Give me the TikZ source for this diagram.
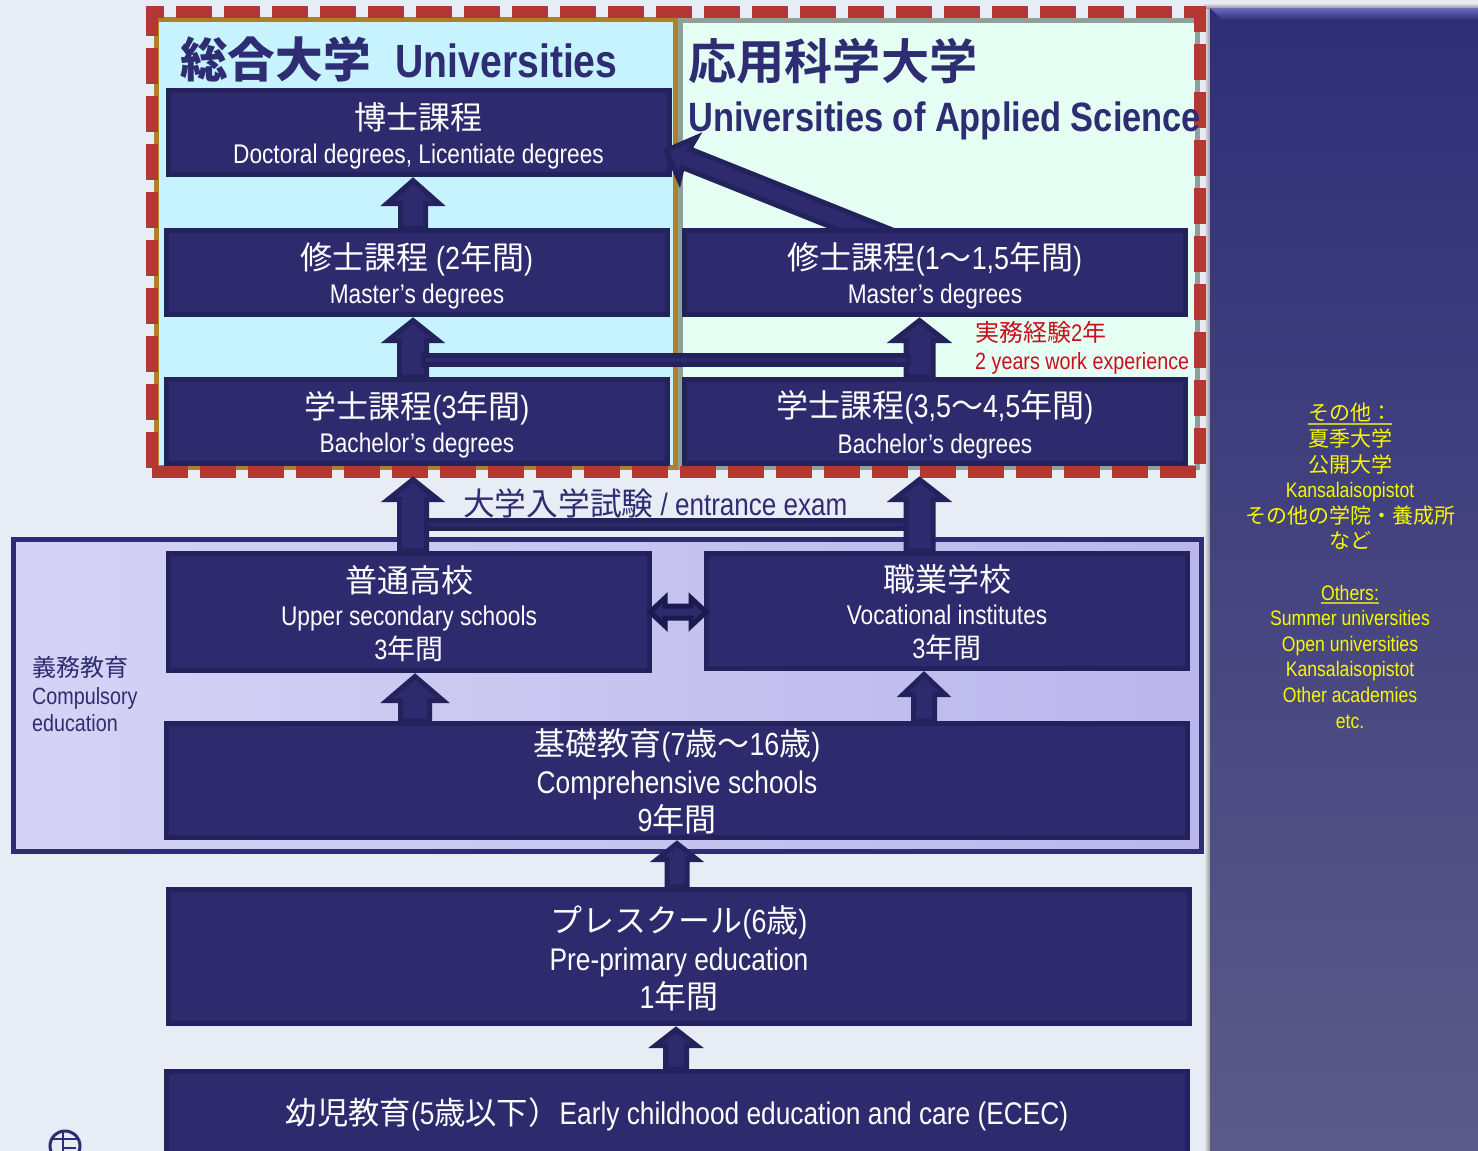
\documentclass[tikz,border=0pt]{standalone}
\usepackage{fontspec}
\setmainfont{Liberation Sans}[FakeStretch=0.84]
\newfontfamily\cjk{Noto Sans CJK JP}
\newfontfamily\cjkb{Noto Sans CJK JP Bold}
\usetikzlibrary{calc,backgrounds}
\pgfdeclarelayer{backlayer}
\pgfdeclarelayer{under}
\pgfsetlayers{backlayer,under,main}
\definecolor{pagebg}{HTML}{E8ECF5}
\definecolor{boxfill}{HTML}{2D2A6E}
\definecolor{boxedge}{HTML}{24225C}
\definecolor{navy}{HTML}{2E2C72}
\definecolor{uniblue}{HTML}{C6F3FD}
\definecolor{appgreen}{HTML}{E6FFF5}
\definecolor{gold}{HTML}{B08028}
\definecolor{sage}{HTML}{8F9F9A}
\definecolor{dashred}{HTML}{B53733}
\definecolor{yel}{HTML}{F8F800}
\definecolor{dimyel}{HTML}{C4C438}
\definecolor{redtext}{HTML}{C8101A}
\definecolor{sidetop}{HTML}{2E2E78}
\definecolor{sidemid}{HTML}{464480}
\definecolor{sidebot}{HTML}{5C5B88}
\definecolor{sidelight}{HTML}{6C6AC0}
\definecolor{complight}{HTML}{D5D3F5}
\definecolor{compdark}{HTML}{BAB6EC}
\definecolor{dharrow}{HTML}{1B1A50}
\newcommand\fs[1]{\fontsize{#1}{#1}\selectfont}
\newcommand\J[1]{{\cjk #1}}
\newcommand\BJ[1]{{\cjkb #1}}
\newcommand\hh[1]{\rule{0pt}{#1pt}}
\newcommand\dimul[1]{\setbox0\hbox{#1}\leavevmode\rlap{\textcolor{dimyel}{\rule[-4pt]{\wd0}{2pt}}}\box0 }
\tikzset{
 box/.style={draw=boxedge,fill=boxfill,line width=5pt,text=white,align=center,inner sep=0pt},
 two/.style={font={\fontsize{27}{34}\selectfont\lineskiplimit -100pt}},
 three/.style={font={\fontsize{27}{37}\selectfont\lineskiplimit -100pt}},
 threeb/.style={font={\fontsize{27}{38}\selectfont\lineskiplimit -100pt}},
 blk/.style={draw=boxedge,fill=boxfill,line width=5pt,miter limit=10},
 lbl/.style={inner sep=0pt,anchor=base west},
}
% from-coordinate, to-coordinate, half shaft, head length, half head
\newcommand\blockup[5]{\draw[blk] let \p1=(#1),\p2=(#2) in
  (\x1-#3+2.5pt,\y1)--(\x1-#3+2.5pt,\y2-#4+2.5pt)--(\x1-#5+6pt,\y2-#4+2.5pt)--(\x2,\y2-3.5pt)
  --(\x1+#5-6pt,\y2-#4+2.5pt)--(\x1+#3-2.5pt,\y2-#4+2.5pt)--(\x1+#3-2.5pt,\y1)--cycle;}
\begin{document}
\begin{tikzpicture}[x=1pt,y=-1pt]
\useasboundingbox (0,0) rectangle (1478,1151);
% ---- boxes
\node[box,two,minimum width=501pt,minimum height=84pt] (ms1) at (417,272.5)
  {\hh{33}{\fs{32}\J{修士課程 }(2\J{年間})}\\Master’s degrees};
\node[box,two,minimum width=501pt,minimum height=84pt] (ms2) at (935,272.5)
  {\hh{33}{\fs{32}\J{修士課程}(1\J{～}1,5\J{年間})}\\Master’s degrees};
\node[box,two,minimum width=501pt,minimum height=84pt] (bl) at (417,421.5)
  {\hh{33}{\fs{32}\J{学士課程}(3\J{年間})}\\Bachelor’s degrees};
\node[box,two,minimum width=501pt,minimum height=84pt] (br) at (935,421.5)
  {\hh{33}{\fs{32}\J{学士課程}(3,5\J{～}4,5\J{年間})}\\[2pt]Bachelor’s degrees};
\node[box,three,minimum width=481pt,minimum height=117pt] (us) at (409,612)
  {\hh{30}{\fs{32}\J{普通高校}}\\[-4pt]Upper secondary schools\\[-3pt]{\fs{28}3\J{年間}}};
\node[box,three,minimum width=481pt,minimum height=115pt] (vo) at (947,611)
  {\hh{30}{\fs{32}\J{職業学校}}\\[-4pt]Vocational institutes\\[-3pt]{\fs{28}3\J{年間}}};
\node[box,threeb,minimum width=1021pt,minimum height=114pt] (cs) at (677,780.5)
  {\hh{29}{\fs{32}\J{基礎教育}(7\J{歳～}16\J{歳})}\\{\fs{31.3}Comprehensive schools}\\{\fs{32}9\J{年間}}};
\node[box,threeb,minimum width=1021pt,minimum height=134pt] (pp) at (679,956.5)
  {\hh{31}{\fs{32}\J{プレスクール}(6\J{歳})}\\{\fs{31.3}Pre-primary education}\\{\fs{32}1\J{年間}}};
\node[box,font=\fontsize{31.3}{36}\selectfont,minimum width=1021pt,minimum height=85pt] (ec) at (677,1114)
  {\J{幼児教育}(5\J{歳以下）}Early childhood education and care (ECEC)};
% ---- labels
\node[lbl,text=navy,font=\fontsize{47}{50}\selectfont\bfseries] (t1) at (180,77) {{\fs{47.6}\BJ{総合大学}}\hspace{25pt}{\fs{46.6}Universities}};
\node[lbl,text=navy,font=\fontsize{48.2}{50}\selectfont] (t2) at (688,79) {\BJ{応用科学大学}};
\node[lbl,text=navy,font=\fontsize{41}{44}\selectfont\bfseries] (t3) at (688,131) {Universities of Applied Science};
\node[lbl,text=redtext,font=\fontsize{24}{26}\selectfont] (r1) at (975,341) {\J{実務経験}2\J{年}};
\node[lbl,text=redtext,font=\fontsize{23.5}{26}\selectfont] (r2) at (975,369) {2 years work experience};
\node[lbl,text=navy,font=\fontsize{31}{32}\selectfont] (ex) at (463,515) {{\fs{31.7}\J{大学入学試験}} / entrance exam};
\node[inner sep=0pt,text=navy,align=left,anchor=north west,font={\fontsize{23.5}{27.5}\selectfont\lineskiplimit -100pt}] (ce) at (32,656.5)
  {{\fs{24}\J{義務教育}}\\Compulsory\\education};
\node[inner sep=0pt,text=yel,align=center,anchor=north,font={\fontsize{21}{25.6}\selectfont\lineskiplimit -100pt}] (ot) at (1350,403)
  {\dimul{\J{その他：}}\\\J{夏季大学}\\\J{公開大学}\\Kansalaisopistot\\\J{その他の学院・養成所}\\\J{など}\\[25.6pt]\dimul{Others:}\\Summer universities\\Open universities\\Kansalaisopistot\\Other academies\\etc.};
% ---- connectors
\coordinate (dh1) at (646,612); \coordinate (dh2) at (710,612);
\draw[draw=dharrow,fill=boxfill,line width=5pt] ($(dh1)+(4,0)$)--($(dh1)+(19,-14)$)--($(dh1)+(19,-6)$)--($(dh2)+(-19,-6)$)--($(dh2)+(-19,-14)$)--($(dh2)+(-4,0)$)--($(dh2)+(-19,14)$)--($(dh2)+(-19,6)$)--($(dh1)+(19,6)$)--($(dh1)+(19,14)$)--cycle;
\coordinate (u1) at (413,0);
\coordinate (u2) at (919.5,0);
\begin{pgfonlayer}{under}
  \node[box,two,minimum width=501pt,minimum height=84pt] (dr) at (418.5,132.5)
    {\hh{33}{\fs{32}\J{博士課程}}\\Doctoral degrees, Licentiate degrees};
  \blockup{u1 |- ms1.north}{u1 |- dr.south}{15pt}{29pt}{32pt}
  \blockup{u1 |- bl.north}{u1 |- ms1.south}{16pt}{26pt}{31pt}
  \blockup{u2 |- br.north}{u2 |- ms2.south}{16pt}{26pt}{31.5pt}
  \coordinate (b1) at (425,524.5); \coordinate (b2) at (905,524.5);
  \draw[draw=boxedge,fill=boxfill,line width=5pt] ($(b1)+(0,-4)$) rectangle ($(b2)+(0,4)$);
  \coordinate (ex1) at (413,476); \coordinate (ex2) at (919.5,476);
  \blockup{u1 |- us.north}{ex1}{16pt}{26pt}{31pt}
  \blockup{u2 |- vo.north}{ex2}{16pt}{26pt}{31.5pt}
  \coordinate (b3) at (421,360); \coordinate (b4) at (911,360);
  \draw[draw=boxedge,fill=boxfill,line width=5pt] ($(b3)+(2.5,-4.5)$) rectangle ($(b4)+(-2.5,4.5)$);
  \coordinate (u3) at (415,0); \coordinate (u4) at (924,0);
  \coordinate (u5) at (677,0); \coordinate (u6) at (676,0);
  \blockup{u3 |- cs.north}{u3 |- us.south}{17pt}{30pt}{34pt}
  \blockup{u4 |- cs.north}{u4 |- vo.south}{13pt}{26pt}{27pt}
  \blockup{u5 |- pp.north}{u5 |- cs.south}{12.5pt}{22pt}{26pt}
  \blockup{u6 |- ec.north}{u6 |- pp.south}{13pt}{22pt}{26.5pt}
  % diagonal
  \begin{scope}[shift={($(dr.east)+(-6,17.5)$)},x={(.928pt,-.371pt)},y={(.371pt,.928pt)}]
    \draw[blk] (1,0)--(24,23)--(22,10)--(250,10)--(250,-10)--(22,-10)--(24,-23)--cycle;
  \end{scope}
\end{pgfonlayer}
% ---- backgrounds
\begin{pgfonlayer}{backlayer}
  \fill[pagebg] (0,0) rectangle (1478,1151);
  \shade[left color=pagebg,right color=black!45] (1204,5) rectangle (1211,1160);
  \shade[top color=pagebg,bottom color=black!40] (1204,3) rectangle (1478,8);
  \shade[top color=sidetop,middle color=sidemid,bottom color=sidebot] (1210,8) rectangle (1478,1160);
  \shade[top color=sidelight,bottom color=sidetop] (1210,8) -- (1478,8) -- (1478,20) -- (1222,20) -- cycle;
  \draw[left color=complight,right color=compdark,draw=navy,line width=5pt] (13,539) rectangle (1201,851);
  \draw[fill=appgreen,draw=sage,line width=5pt] (680,20.5) rectangle (1197.5,467);
  \draw[fill=uniblue,draw=gold,line width=5pt] (156.5,19.5) rectangle (675.5,467);
  \draw[dashred,line width=12pt,dash pattern=on 36pt off 12pt,dash phase=24pt] (152,12)--(1200,12)--(1200,472)--(152,472);
  \draw[dashred,line width=12pt,dash pattern=on 36pt off 12pt] (152,468)--(152,6);
  % emblem fragment
  \draw[navy,line width=3pt] (65,1146) circle (15);
  \draw[navy,line width=2.5pt] (53,1139)--(77,1139) (63,1131)--(63,1155) (63,1148)--(76,1148);
\end{pgfonlayer}
\end{tikzpicture}
\end{document}
